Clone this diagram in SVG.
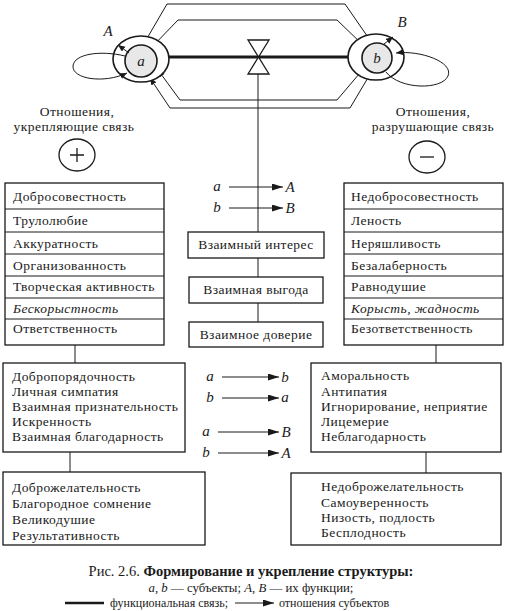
<svg xmlns="http://www.w3.org/2000/svg" width="508" height="611" viewBox="0 0 508 611">
<defs>
<marker id="tri" markerUnits="userSpaceOnUse" markerWidth="12" markerHeight="8" refX="11" refY="3.5" orient="auto"><path d="M0,0 L11,3.5 L0,7 z" fill="#1a1a1a"/></marker>
<marker id="sm" markerUnits="userSpaceOnUse" markerWidth="8" markerHeight="7" refX="7" refY="3" orient="auto"><path d="M0,0 L7,3 L0,6 z" fill="#1a1a1a"/></marker>
</defs>
<style>
text{font-family:"Liberation Serif","Times New Roman",serif;fill:#1a1a1a}
.t{font-size:13.5px;letter-spacing:0.45px}
.i{font-style:italic}
.box{fill:#fff;stroke:#1a1a1a;stroke-width:1.3}
.ln{fill:none;stroke:#1a1a1a;stroke-width:1}
.arr{fill:none;stroke:#1a1a1a;stroke-width:1;marker-end:url(#tri)}
.sa{fill:none;stroke:#1a1a1a;stroke-width:1;marker-end:url(#sm)}
.ring{fill:#fff;stroke:#1a1a1a;stroke-width:1.6}
.core{fill:#e8e8e8;stroke:#1a1a1a;stroke-width:1.6}
</style>
<rect width="508" height="611" fill="#fff"/>

<g id="connectors">
<path class="sa" d="M142,47 L167,4 L345,4 L372,43"/>
<path class="sa" d="M151,48 L178,20 L337,20 L363,45"/>
<path class="sa" d="M365,67 L337,100 L180,100 L158,70"/>
<path class="sa" d="M372,71 L350,108 L170,108 L150,78"/>
<line x1="169" y1="57" x2="348" y2="57" stroke="#1a1a1a" stroke-width="3"/>
<line class="ln" x1="258" y1="74" x2="258" y2="232"/>
<line class="ln" x1="258" y1="258" x2="258" y2="277"/>
<line class="ln" x1="258" y1="303" x2="258" y2="322"/>
<line class="ln" x1="75" y1="345" x2="75" y2="363"/>
<line class="ln" x1="70" y1="452" x2="70" y2="472"/>
<line class="ln" x1="436" y1="345" x2="436" y2="363"/>
<line class="ln" x1="426" y1="452" x2="426" y2="473"/>
<line class="arr" x1="229" y1="187" x2="283" y2="187"/>
<line class="arr" x1="229" y1="208" x2="283" y2="208"/>
<line class="arr" x1="222" y1="377" x2="279" y2="377"/>
<line class="arr" x1="222" y1="398" x2="279" y2="398"/>
<line class="arr" x1="218" y1="432" x2="279" y2="432"/>
<line class="arr" x1="218" y1="453" x2="279" y2="453"/>
</g>

<g id="valve">
<path d="M248,40 L269,40 L258.5,57 z M258.5,57 L248,74 L269,74 z" fill="#fff" stroke="#1a1a1a" stroke-width="1.3"/>
</g>

<g id="nodeA">
<ellipse class="ring" cx="141" cy="59" rx="28" ry="23"/>
<circle class="core" cx="141" cy="61" r="16"/>
<path class="sa" d="M129,53 L118,45"/>
<path class="sa" d="M125,56 C100,50 74,54 73,66 C72,79 104,84 127,73"/>
<text x="141" y="66" class="i" font-size="15" text-anchor="middle">a</text>
<text x="108" y="36" class="i" font-size="15" text-anchor="middle">A</text>
</g>

<g id="nodeB">
<ellipse class="ring" cx="376" cy="57" rx="28" ry="23"/>
<circle class="core" cx="377" cy="58" r="15"/>
<path class="sa" d="M384,44 L393,37"/>
<path class="sa" d="M386,72 C400,90 442,90 448,76 C454,62 420,50 396,53"/>
<text x="377" y="63" class="i" font-size="15" text-anchor="middle">b</text>
<text x="402" y="27" class="i" font-size="15" text-anchor="middle">B</text>
</g>

<g id="plus">
<text x="77" y="116" class="t" text-anchor="middle">Отношения,</text>
<text x="74" y="131" class="t" text-anchor="middle">укрепляющие связь</text>
<ellipse cx="77" cy="155" rx="18" ry="16" fill="none" stroke="#1a1a1a" stroke-width="1.3"/>
<path d="M70,155 H84 M77,148 V162" stroke="#1a1a1a" stroke-width="1.3"/>
</g>

<g id="minus">
<text x="433" y="116" class="t" text-anchor="middle">Отношения,</text>
<text x="433" y="131" class="t" text-anchor="middle">разрушающие связь</text>
<ellipse cx="427" cy="157" rx="18" ry="16" fill="none" stroke="#1a1a1a" stroke-width="1.3"/>
<path d="M420,157 H434" stroke="#1a1a1a" stroke-width="1.3"/>
</g>

<g id="tableLeft">
<rect class="box" x="5" y="183" width="159" height="162"/>
<path class="ln" d="M5,209 H164 M5,232 H164 M5,254 H164 M5,276 H164 M5,298 H164 M5,319 H164"/>
<text x="13" y="201" class="t">Добросовестность</text>
<text x="13" y="225" class="t">Трулолюбие</text>
<text x="13" y="248" class="t">Аккуратность</text>
<text x="13" y="270" class="t">Организованность</text>
<text x="13" y="291" class="t">Творческая активность</text>
<text x="13" y="313" class="t i">Бескорыстность</text>
<text x="13" y="333" class="t">Ответственность</text>
</g>

<g id="tableRight">
<rect class="box" x="344" y="183" width="159" height="162"/>
<path class="ln" d="M344,209 H503 M344,232 H503 M344,254 H503 M344,276 H503 M344,298 H503 M344,319 H503"/>
<text x="351" y="201" class="t">Недобросовестность</text>
<text x="351" y="225" class="t">Леность</text>
<text x="351" y="248" class="t">Неряшливость</text>
<text x="351" y="270" class="t">Безалаберность</text>
<text x="351" y="291" class="t">Равнодушие</text>
<text x="351" y="313" class="t i">Корысть, жадность</text>
<text x="351" y="333" class="t">Безответственность</text>
</g>

<g id="midLabels1">
<text x="217" y="191" class="i" font-size="15" text-anchor="middle">a</text>
<text x="290" y="192" class="i" font-size="15" text-anchor="middle">A</text>
<text x="217" y="212" class="i" font-size="15" text-anchor="middle">b</text>
<text x="290" y="213" class="i" font-size="15" text-anchor="middle">B</text>
</g>

<g id="interest">
<rect class="box" x="188" y="232" width="136" height="26"/>
<text x="256" y="249" class="t" text-anchor="middle">Взаимный интерес</text>
</g>
<g id="benefit">
<rect class="box" x="189" y="277" width="134" height="26"/>
<text x="256" y="294" class="t" text-anchor="middle">Взаимная выгода</text>
</g>
<g id="trust">
<rect class="box" x="189" y="322" width="134" height="25"/>
<text x="256" y="339" class="t" text-anchor="middle">Взаимное доверие</text>
</g>

<g id="midLabels2">
<text x="210" y="381" class="i" font-size="15" text-anchor="middle">a</text>
<text x="285" y="382" class="i" font-size="15" text-anchor="middle">b</text>
<text x="210" y="402" class="i" font-size="15" text-anchor="middle">b</text>
<text x="285" y="402" class="i" font-size="15" text-anchor="middle">a</text>
<text x="206" y="436" class="i" font-size="15" text-anchor="middle">a</text>
<text x="286" y="437" class="i" font-size="15" text-anchor="middle">B</text>
<text x="206" y="457" class="i" font-size="15" text-anchor="middle">b</text>
<text x="286" y="458" class="i" font-size="15" text-anchor="middle">A</text>
</g>

<g id="boxL2">
<rect class="box" x="3" y="363" width="182" height="89"/>
<text x="12" y="381" class="t">Добропорядочность</text>
<text x="12" y="396" class="t">Личная симпатия</text>
<text x="12" y="411" class="t">Взаимная признательность</text>
<text x="12" y="426" class="t">Искренность</text>
<text x="12" y="441" class="t">Взаимная благодарность</text>
</g>

<g id="boxL3">
<rect class="box" x="3" y="472" width="202" height="73"/>
<text x="12" y="492" class="t">Доброжелательность</text>
<text x="12" y="508" class="t">Благородное сомнение</text>
<text x="12" y="524" class="t">Великодушие</text>
<text x="12" y="540" class="t">Результативность</text>
</g>

<g id="boxR2">
<rect class="box" x="311" y="363" width="190" height="89"/>
<text x="321" y="380" class="t">Аморальность</text>
<text x="321" y="396" class="t">Антипатия</text>
<text x="321" y="411" class="t">Игнорирование, неприятие</text>
<text x="321" y="426" class="t">Лицемерие</text>
<text x="321" y="441" class="t">Неблагодарность</text>
</g>

<g id="boxR3">
<rect class="box" x="291" y="473" width="210" height="72"/>
<text x="321" y="491" class="t">Недоброжелательность</text>
<text x="321" y="507" class="t">Самоуверенность</text>
<text x="321" y="522" class="t">Низость, подлость</text>
<text x="321" y="537" class="t">Бесплодность</text>
</g>

<g id="caption">
<text x="251" y="576" font-size="14.5" text-anchor="middle">Рис. 2.6. <tspan font-weight="bold">Формирование и укрепление структуры:</tspan></text>
<text x="251" y="592" font-size="12.8" text-anchor="middle"><tspan font-style="italic">a</tspan>, <tspan font-style="italic">b</tspan> — субъекты; <tspan font-style="italic">A</tspan>, <tspan font-style="italic">B</tspan> — их функции;</text>
<line x1="65" y1="603" x2="104" y2="603" stroke="#1a1a1a" stroke-width="2.5"/>
<text x="110" y="607" font-size="12">функциональная связь;</text>
<line class="arr" x1="235" y1="603" x2="274" y2="603"/>
<text x="279" y="607" font-size="12">отношения субъектов</text>
</g>
</svg>
